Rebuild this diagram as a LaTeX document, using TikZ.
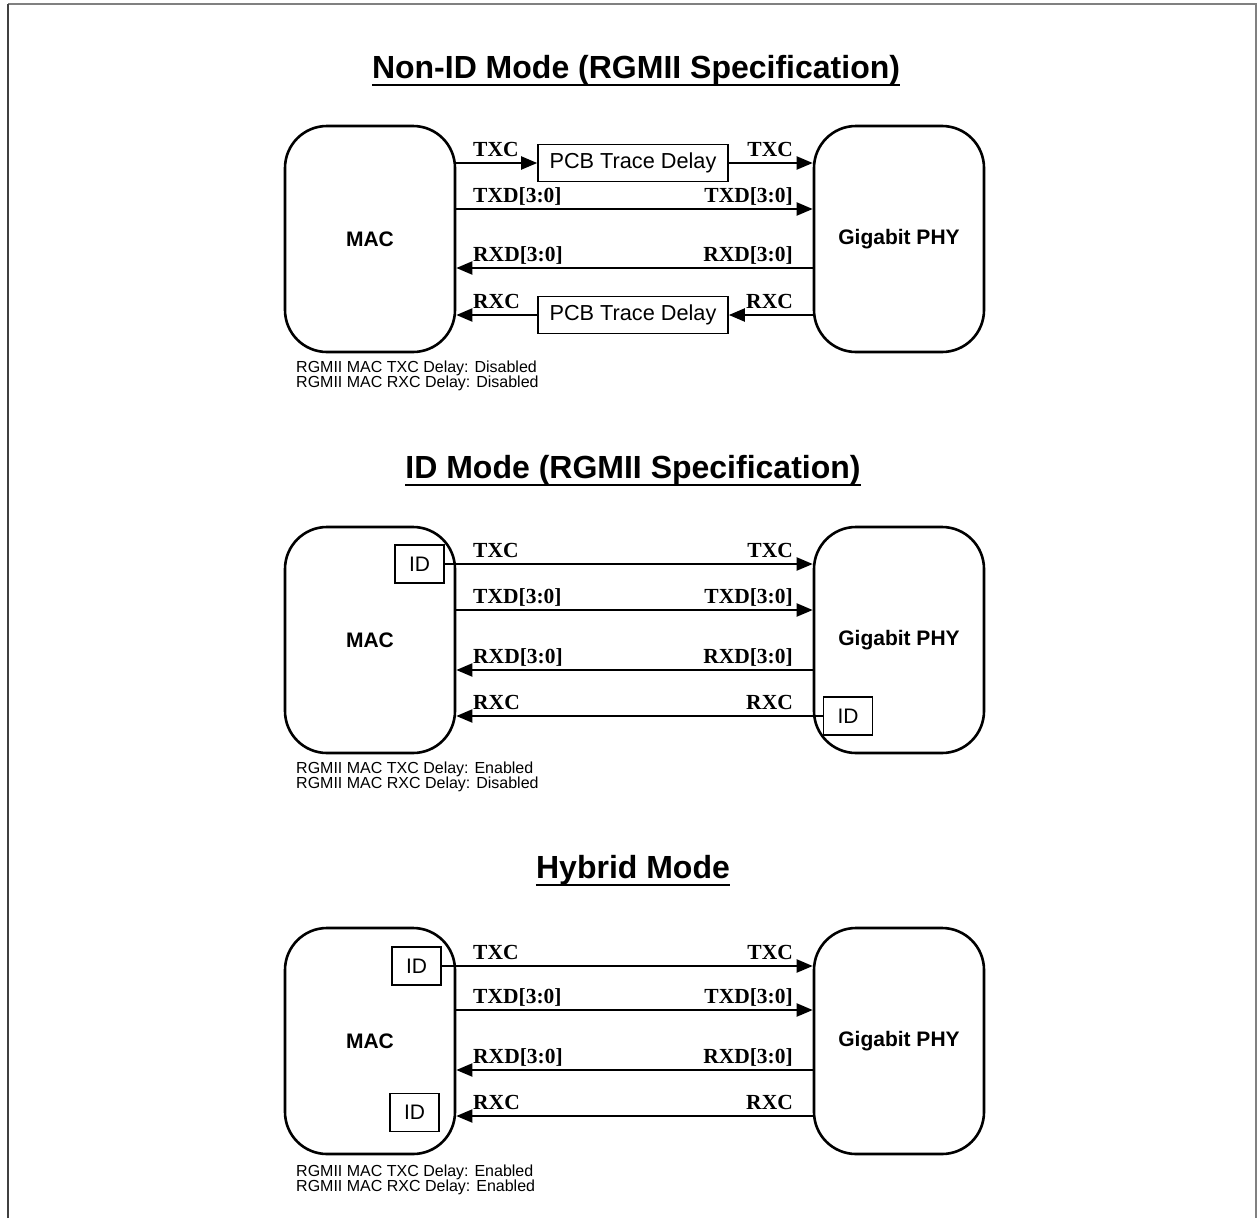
\documentclass[tikz,border=0pt]{standalone}
\usepackage{fontspec}
\setmainfont{Liberation Sans}
\newfontfamily\sigfont{Liberation Serif}
\usetikzlibrary{arrows.meta}
\begin{document}
\begin{tikzpicture}[x=1pt,y=-1pt,
  ttl/.style={anchor=base, inner sep=0pt, font=\fontsize{32}{32}\selectfont\bfseries},
  uline/.style={line width=2.2pt},
  bigbox/.style={draw, line width=2.6pt, rounded corners=42pt, minimum width=170pt, minimum height=226pt, inner sep=0pt, font=\fontsize{21}{21}\selectfont\bfseries},
  pcb/.style={draw, line width=1.6pt, minimum width=190pt, minimum height=37pt, inner sep=0pt, font=\fontsize{21.7}{21.7}\selectfont},
  idbox/.style={draw, line width=1.6pt, minimum width=49pt, minimum height=38pt, inner sep=0pt, font=\fontsize{21}{21}\selectfont},
  sig/.style={line width=2pt, -{Triangle[length=16pt,width=13pt]}},
  lab/.style={inner sep=0pt, font=\fontsize{21.5}{21.5}\sigfont\bfseries},
  captxt/.style={inner sep=0pt, anchor=base west, font=\fontsize{16}{16}\selectfont},
  framec/.style={line width=1.6pt, draw=black!50}
]
\useasboundingbox (0,0) rectangle (1258,1218);
% frame
\draw[framec] (8,4) -- (1256,4) -- (1256,1218);
\draw[line width=1.8pt, draw=black!75] (8,1218) -- (8,4);

\newcommand\labpair[4]{%
  \node[lab,anchor=base west] (#1L) at (473,{#2-7}) {#3};
  \node[lab,anchor=base east] (#1R) at (793,{#2-7}) {#4};}

% ---------------- Section 1 ----------------
\node[ttl] (t1) at (636,78) {Non-ID Mode (RGMII Specification)};
\draw[uline] ([yshift=-7pt]t1.base west) -- ([yshift=-7pt]t1.base east);
\node[bigbox] (mac1) at (370,239) {MAC};
\node[bigbox] (phy1) at (899,239) {Gigabit PHY};
\node[pcb] (pcbt1) at (633,163) {PCB Trace Delay};
\node[pcb] (pcbr1) at (633,315) {PCB Trace Delay};
\coordinate (txd1) at (0,209);
\coordinate (rxd1) at (0,268);
\draw[sig] (mac1.east |- pcbt1.west) -- (pcbt1.west);
\draw[sig] (pcbt1.east) -- (phy1.west |- pcbt1.east);
\draw[sig] (mac1.east |- txd1) -- (phy1.west |- txd1);
\draw[sig] (phy1.west |- rxd1) -- (mac1.east |- rxd1);
\draw[sig] (phy1.west |- pcbr1.east) -- (pcbr1.east);
\draw[sig] (pcbr1.west) -- (mac1.east |- pcbr1.west);
\labpair{txc1}{163}{TXC}{TXC}
\labpair{txdl1}{209}{TXD[3:0]}{TXD[3:0]}
\labpair{rxdl1}{268}{RXD[3:0]}{RXD[3:0]}
\labpair{rxc1}{315}{RXC}{RXC}
\node[captxt] (c1a) at (296,372) {RGMII MAC TXC Delay: Disabled};
\node[captxt] (c1b) at (296,387) {RGMII MAC RXC Delay: Disabled};

% ---------------- Section 2 ----------------
\node[ttl] (t2) at (633,478) {ID Mode (RGMII Specification)};
\draw[uline] ([yshift=-7pt]t2.base west) -- ([yshift=-7pt]t2.base east);
\node[bigbox] (mac2) at (370,640) {MAC};
\node[bigbox] (phy2) at (899,640) {Gigabit PHY};
\node[idbox] (idm2) at (419.5,564) {ID};
\node[idbox] (idp2) at (848,716) {ID};
\coordinate (txd2) at (0,610);
\coordinate (rxd2) at (0,670);
\draw[sig] (idm2.east) -- (phy2.west |- idm2.east);
\draw[sig] (mac2.east |- txd2) -- (phy2.west |- txd2);
\draw[sig] (phy2.west |- rxd2) -- (mac2.east |- rxd2);
\draw[sig] (idp2.west) -- (mac2.east |- idp2.west);
\labpair{txc2}{564}{TXC}{TXC}
\labpair{txdl2}{610}{TXD[3:0]}{TXD[3:0]}
\labpair{rxdl2}{670}{RXD[3:0]}{RXD[3:0]}
\labpair{rxc2}{716}{RXC}{RXC}
\node[captxt] (c2a) at (296,773) {RGMII MAC TXC Delay: Enabled};
\node[captxt] (c2b) at (296,788) {RGMII MAC RXC Delay: Disabled};

% ---------------- Section 3 ----------------
\node[ttl] (t3) at (633,878) {Hybrid Mode};
\draw[uline] ([yshift=-7pt]t3.base west) -- ([yshift=-7pt]t3.base east);
\node[bigbox] (mac3) at (370,1041) {MAC};
\node[bigbox] (phy3) at (899,1041) {Gigabit PHY};
\node[idbox] (idt3) at (416.5,966) {ID};
\node[idbox] (idb3) at (414.5,1112.5) {ID};
\coordinate (txd3) at (0,1010);
\coordinate (rxd3) at (0,1070);
\coordinate (rxc3) at (0,1116);
\draw[sig] (idt3.east) -- (phy3.west |- idt3.east);
\draw[sig] (mac3.east |- txd3) -- (phy3.west |- txd3);
\draw[sig] (phy3.west |- rxd3) -- (mac3.east |- rxd3);
\draw[sig] (phy3.west |- rxc3) -- (mac3.east |- rxc3);
\labpair{txc3}{966}{TXC}{TXC}
\labpair{txdl3}{1010}{TXD[3:0]}{TXD[3:0]}
\labpair{rxdl3}{1070}{RXD[3:0]}{RXD[3:0]}
\labpair{rxc3l}{1116}{RXC}{RXC}
\node[captxt] (c3a) at (296,1176) {RGMII MAC TXC Delay: Enabled};
\node[captxt] (c3b) at (296,1191) {RGMII MAC RXC Delay: Enabled};
\end{tikzpicture}
\end{document}
